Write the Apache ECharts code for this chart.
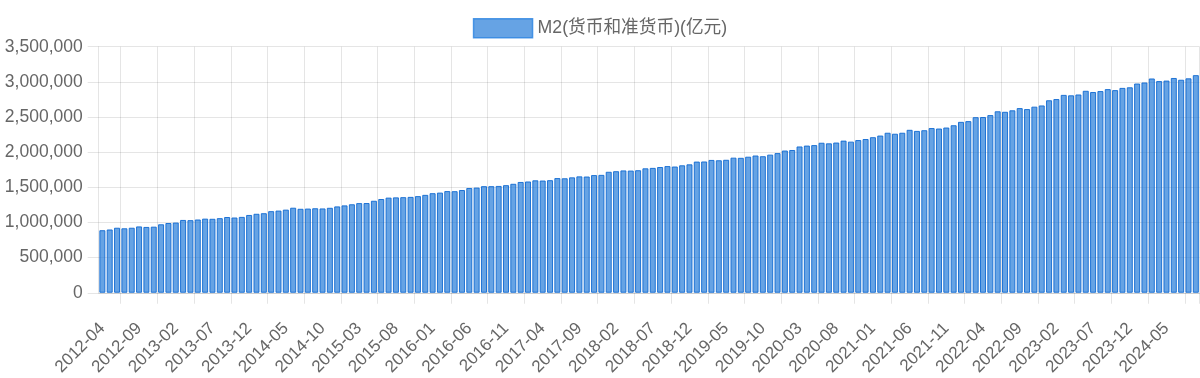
<!DOCTYPE html>
<html>
<head>
<meta charset="utf-8">
<script src="https://cdn.jsdelivr.net/npm/echarts@6/dist/echarts.min.js"></script>
<style>
html,body{margin:0;padding:0;background:#fff;}
#chart{width:1200px;height:378px;}
</style>
</head>
<body>
<div id="chart"></div>
<script>
// Monthly M2 (亿元), 2012-04 .. 2024-09
const seriesName = 'M2(货币和准货币)(亿元)';
const startYear = 2012, startMonth = 4;
const m2_2012 = [889604, 900049, 924991, 917300, 924900, 943700, 936400, 940000, 974149];
const m2_2013 = [992129, 998600, 1035858, 1032552, 1042169, 1054404, 1052212, 1061256, 1077379, 1070242, 1079257, 1106525];
const m2_2014 = [1123521, 1131760, 1160687, 1168812, 1182300, 1209587, 1194249, 1197499, 1202051, 1199236, 1208600, 1228375];
const m2_2015 = [1242710, 1258800, 1275300, 1276300, 1308600, 1333400, 1353200, 1356900, 1359800, 1363700, 1374900, 1392278];
const m2_2016 = [1416300, 1424600, 1446200, 1444800, 1461300, 1490500, 1496100, 1516400, 1516400, 1519500, 1530400, 1550067];
const m2_2017 = [1575900, 1582900, 1599600, 1596300, 1601400, 1631300, 1628600, 1641700, 1655700, 1653400, 1674000, 1676769];
const m2_2018 = [1720800, 1729100, 1739900, 1737700, 1743100, 1770200, 1776200, 1788700, 1801700, 1795600, 1813200, 1826744];
const m2_2019 = [1865900, 1867400, 1889400, 1884700, 1891500, 1921500, 1919400, 1935400, 1952300, 1942200, 1964600, 1986489];
const m2_2020 = [2023100, 2030800, 2080900, 2093500, 2100200, 2133900, 2125500, 2136800, 2164100, 2149700, 2172100, 2186796];
const m2_2021 = [2213000, 2236000, 2276000, 2262000, 2276000, 2317800, 2302200, 2312300, 2342800, 2336200, 2350400, 2382899];
const m2_2022 = [2431000, 2441500, 2497700, 2499700, 2527000, 2581500, 2574100, 2595100, 2626600, 2612900, 2647100, 2664320];
const m2_2023 = [2738100, 2755300, 2814600, 2808500, 2820500, 2873000, 2855400, 2868900, 2896700, 2882300, 2914000, 2922713];
const m2_2024 = [2976200, 2991000, 3047966, 3011000, 3017900, 3055000, 3030000, 3050000, 3095500];
const yTicks = [0, 500000, 1000000, 1500000, 2000000, 2500000, 3000000, 3500000];

const values = [].concat(m2_2012, m2_2013, m2_2014, m2_2015, m2_2016, m2_2017, m2_2018,
  m2_2019, m2_2020, m2_2021, m2_2022, m2_2023, m2_2024);
const categories = values.map((v, i) => {
  const t = (startMonth - 1) + i;
  const y = startYear + Math.floor(t / 12);
  const m = (t % 12) + 1;
  return y + '-' + (m < 10 ? '0' + m : m);
});

const gridColor = 'rgba(0,0,0,0.1)';
const txtColor = '#666';
const font = '"Liberation Sans", Arial, Helvetica, "Noto Sans CJK SC", sans-serif';

const chart = echarts.init(document.getElementById('chart'), null, {renderer: 'canvas'});
chart.setOption({
  animation: false,
  legend: {
    top: 13,
    left: 'center',
    icon: 'rect',
    itemWidth: 59,
    itemHeight: 19,
    itemGap: 10,
    textStyle: {color: txtColor, fontSize: 17.7, fontFamily: font},
    itemStyle: {color: 'rgba(30,120,215,0.68)', borderColor: 'rgba(40,130,225,0.8)', borderWidth: 1.5}
  },
  grid: {left: 98.7, right: 0.5, top: 46.7, bottom: 83.7, containLabel: false},
  xAxis: {
    type: 'category',
    data: categories,
    boundaryGap: true,
    axisLine: {show: true, lineStyle: {color: gridColor, width: 1}},
    axisTick: {show: true, length: 11, interval: (i) => i % 5 === 3, lineStyle: {color: gridColor}},
    splitLine: {show: true, interval: (i) => i % 5 === 3, lineStyle: {color: gridColor, width: 1}},
    axisLabel: {
      interval: 4, rotate: 45, margin: 33,
      color: txtColor, fontSize: 17, fontFamily: font
    }
  },
  yAxis: {
    type: 'value',
    min: yTicks[0],
    max: yTicks[yTicks.length - 1],
    interval: yTicks[1] - yTicks[0],
    axisLine: {show: true, lineStyle: {color: gridColor, width: 1}},
    axisTick: {show: true, length: 11, lineStyle: {color: gridColor}},
    splitLine: {show: true, lineStyle: {color: gridColor, width: 1}},
    axisLabel: {
      margin: 16, color: txtColor, fontSize: 17.5, fontFamily: font,
      formatter: (v) => v.toLocaleString('en-US')
    }
  },
  series: [{
    name: seriesName,
    type: 'bar',
    data: values,
    barCategoryGap: '18%',
    itemStyle: {
      color: 'rgba(30,120,215,0.68)',
      borderColor: 'rgba(15,105,210,0.9)',
      borderWidth: 1
    }
  }]
});
</script>
</body>
</html>
